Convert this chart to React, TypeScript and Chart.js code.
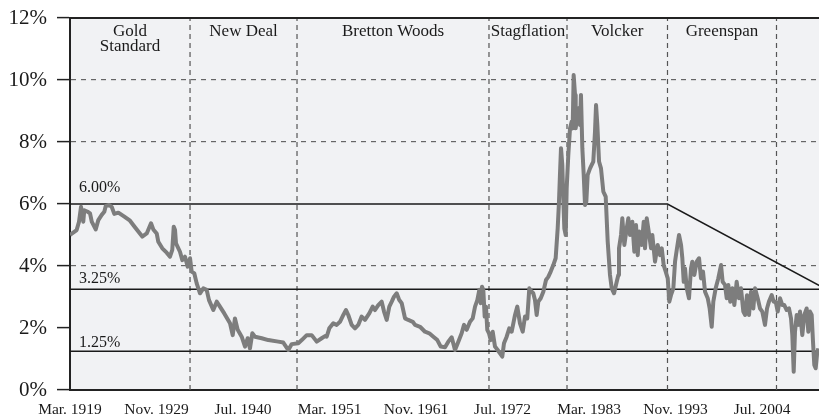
import React, { useEffect, useRef } from 'react';
import { Chart, registerables } from 'chart.js';

Chart.register(...registerables);

// Series: decimal year and rate (%)
const years: number[] = [
  1919.17, 1919.99, 1920.28, 1920.53, 1920.81, 1920.93, 1921.35, 1921.64, 1921.85, 1922.34,
  1922.66, 1923.08, 1923.40, 1923.57, 1923.98, 1924.31, 1924.63, 1925.13, 1925.87, 1926.57,
  1927.18, 1928.08, 1928.63, 1929.16, 1929.44, 1929.86, 1930.06, 1930.55, 1931.09, 1931.50,
  1931.78, 1931.96, 1932.12, 1932.24, 1932.73, 1933.02, 1933.35, 1933.68, 1933.97, 1934.17,
  1934.50, 1934.79, 1935.20, 1935.61, 1936.02, 1936.31, 1936.84, 1937.26, 1937.54, 1938.19,
  1938.90, 1939.23, 1939.51, 1939.85, 1940.34, 1940.75, 1941.08, 1941.36, 1941.65, 1941.98,
  1942.81, 1943.62, 1944.85, 1945.47, 1946.09, 1946.51, 1947.32, 1947.74, 1948.36, 1948.97,
  1949.59, 1950.20, 1950.61, 1950.82, 1951.14, 1951.63, 1952.05, 1952.46, 1952.87, 1953.20,
  1953.48, 1953.90, 1954.31, 1954.71, 1955.13, 1955.54, 1956.07, 1956.49, 1956.78, 1957.18,
  1957.60, 1957.89, 1958.22, 1958.54, 1958.84, 1959.12, 1959.45, 1959.77, 1960.07, 1960.48,
  1960.88, 1961.43, 1961.71, 1962.33, 1962.94, 1963.47, 1963.97, 1964.46, 1964.88, 1965.41,
  1965.81, 1966.23, 1966.64, 1967.05, 1967.46, 1967.75, 1968.08, 1968.49, 1968.82, 1969.11,
  1969.39, 1969.64, 1969.81, 1969.97, 1970.13, 1970.30, 1970.46, 1970.62, 1970.83, 1971.04,
  1971.29, 1971.57, 1971.90, 1972.19, 1972.47, 1972.68, 1973.01, 1973.33, 1973.63, 1974.04,
  1974.32, 1974.65, 1974.99, 1975.27, 1975.55, 1975.80, 1976.10, 1976.29, 1976.50, 1976.71,
  1976.91, 1977.21, 1977.53, 1977.86, 1978.14, 1978.44, 1978.76, 1979.05, 1979.30, 1979.46,
  1979.58, 1979.71, 1979.87, 1979.99, 1980.12, 1980.29, 1980.41, 1980.61, 1980.82, 1981.03,
  1981.15, 1981.27, 1981.44, 1981.52, 1981.68, 1981.84, 1982.05, 1982.17, 1982.34, 1982.51,
  1982.67, 1982.83, 1983.00, 1983.29, 1983.69, 1983.90, 1984.03, 1984.19, 1984.40, 1984.64,
  1984.93, 1985.22, 1985.47, 1985.75, 1985.96, 1986.25, 1986.58, 1986.78, 1986.86, 1987.11,
  1987.27, 1987.52, 1987.81, 1988.01, 1988.22, 1988.50, 1988.75, 1988.96, 1989.17, 1989.36,
  1989.66, 1989.91, 1990.07, 1990.28, 1990.47, 1990.81, 1990.97, 1991.30, 1991.63, 1991.92,
  1992.13, 1992.37, 1992.62, 1992.87, 1993.06, 1993.27, 1993.56, 1993.77, 1994.01, 1994.26,
  1994.51, 1994.67, 1994.84, 1995.00, 1995.21, 1995.49, 1995.74, 1995.90, 1996.15, 1996.44,
  1996.73, 1996.97, 1997.22, 1997.47, 1997.80, 1998.04, 1998.29, 1998.49, 1998.78, 1999.10,
  1999.44, 1999.64, 1999.93, 2000.14, 2000.34, 2000.58, 2000.83, 2001.08, 2001.37, 2001.65,
  2001.90, 2002.19, 2002.40, 2002.64, 2002.89, 2003.14, 2003.42, 2003.63, 2003.96, 2004.25,
  2004.53, 2004.86, 2005.11, 2005.35, 2005.69, 2005.93, 2006.18, 2006.43, 2006.71, 2007.00,
  2007.24, 2007.54, 2007.82, 2008.07, 2008.23, 2008.40, 2008.56, 2008.77, 2008.97, 2009.18,
  2009.46, 2009.71, 2010.00, 2010.20, 2010.41, 2010.62, 2010.78, 2010.94, 2011.11, 2011.27,
  2011.43,
];

const rates: number[] = [
  5.00, 5.16, 5.43, 5.91, 5.43, 5.80, 5.75, 5.70, 5.43, 5.18,
  5.48, 5.65, 5.75, 5.93, 5.97, 5.91, 5.68, 5.72, 5.59, 5.46,
  5.25, 4.95, 5.05, 5.38, 5.18, 5.05, 4.78, 4.57, 4.43, 4.30,
  4.52, 5.27, 5.16, 4.73, 4.46, 4.19, 4.30, 3.98, 4.25, 3.82,
  3.76, 3.44, 3.12, 3.28, 3.23, 2.90, 2.58, 2.85, 2.74, 2.47,
  2.15, 1.77, 2.31, 1.94, 1.72, 1.40, 1.67, 1.34, 1.83, 1.72,
  1.67, 1.61, 1.56, 1.53, 1.29, 1.48, 1.51, 1.61, 1.77, 1.77,
  1.56, 1.67, 1.74, 1.72, 1.99, 2.15, 2.10, 2.20, 2.42, 2.58,
  2.42, 2.10, 1.99, 2.10, 2.37, 2.26, 2.47, 2.69, 2.58, 2.74,
  2.85, 2.53, 2.26, 2.69, 2.85, 3.01, 3.12, 2.90, 2.80, 2.31,
  2.26, 2.20, 2.10, 2.04, 1.88, 1.83, 1.72, 1.61, 1.40, 1.38,
  1.56, 1.70, 1.29, 1.56, 1.83, 2.10, 1.94, 2.20, 2.31, 2.69,
  2.90, 3.23, 2.80, 3.33, 3.23, 2.37, 2.69, 1.94, 1.83, 1.61,
  1.88, 1.40, 1.29, 1.18, 1.08, 1.51, 1.72, 1.99, 1.88, 2.42,
  2.69, 2.15, 1.88, 2.37, 2.31, 3.28, 3.17, 3.12, 2.90, 2.42,
  2.85, 2.96, 3.17, 3.55, 3.65, 3.82, 4.03, 4.25, 5.21, 6.07,
  6.94, 7.80, 7.26, 6.18, 5.21, 5.00, 6.51, 7.58, 8.44, 8.66,
  8.44, 10.16, 9.52, 8.44, 8.76, 9.09, 8.55, 9.52, 7.80, 6.94,
  5.97, 6.07, 6.94, 7.15, 7.37, 8.33, 9.19, 8.55, 7.37, 7.15,
  6.40, 6.24, 4.78, 3.71, 3.28, 3.12, 3.49, 3.71, 4.57, 5.00,
  5.54, 4.68, 5.21, 5.54, 5.00, 5.43, 4.46, 5.32, 4.35, 5.11,
  4.68, 5.43, 4.57, 5.54, 5.21, 4.57, 5.00, 4.14, 4.68, 4.35,
  4.57, 4.03, 3.82, 3.60, 2.85, 3.06, 3.28, 4.14, 4.57, 5.00,
  4.68, 4.25, 3.49, 3.92, 3.28, 2.96, 3.92, 4.14, 3.71, 4.14,
  4.25, 3.60, 3.82, 3.17, 2.96, 2.63, 2.04, 2.85, 3.28, 3.60,
  4.03, 3.49, 3.39, 2.96, 3.39, 2.85, 3.28, 2.74, 3.49, 2.96,
  3.28, 2.53, 2.42, 3.06, 2.42, 3.17, 2.63, 3.28, 2.96, 2.63,
  2.53, 2.10, 2.63, 2.85, 3.06, 2.85, 2.85, 2.53, 2.96, 2.74,
  2.74, 2.58, 2.63, 2.31, 1.77, 0.59, 1.88, 2.42, 2.10, 2.53,
  1.77, 2.42, 2.63, 1.88, 2.53, 2.42, 1.56, 0.81, 0.70, 1.13,
  1.34,
];

const xMin = 1919.17;
const xMax = 2011.52;

const tickYears: number[] = [1919.17, 1929.83, 1940.5, 1951.17, 1961.83, 1972.5, 1983.17, 1993.83, 2004.5];
const tickLabels: string[] = ['Mar. 1919', 'Nov. 1929', 'Jul. 1940', 'Mar. 1951', 'Nov. 1961', 'Jul. 1972', 'Mar. 1983', 'Nov. 1993', 'Jul. 2004'];

const eraNames: string[][] = [['Gold', 'Standard'], ['New Deal'], ['Bretton Woods'], ['Stagflation'], ['Volcker'], ['Greenspan'], []];
const eraBounds: number[] = [1933.97, 1947.16, 1970.83, 1980.45, 1992.84, 2006.28];

const policyYears: number[] = [1919.17, 1992.84, 2012.4];
const policyRates: number[] = [6, 6, 3.25];
const refLevels: number[] = [3.25, 1.25];
const refLabels: string[] = ['6.00%', '3.25%', '1.25%'];
const refLabelValues: number[] = [6, 3.25, 1.25];
const dashedGridValues: number[] = [4, 8, 10];

const SERIF = '"Liberation Serif", "DejaVu Serif", serif';

export default function App() {
  const ref = useRef<HTMLCanvasElement | null>(null);

  useEffect(() => {
    const canvas = ref.current;
    if (!canvas) return;

    const bgPlugin = {
      id: 'bgPlugin',
      beforeDraw(chart: any) {
        const { ctx, chartArea } = chart;
        ctx.save();
        ctx.fillStyle = '#f1f2f4';
        ctx.fillRect(chartArea.left, chartArea.top, chartArea.right - chartArea.left, chartArea.bottom - chartArea.top);
        ctx.restore();
      },
      afterDraw(chart: any) {
        const { ctx, chartArea, scales } = chart;
        const y = scales.y;
        const x = scales.x;
        ctx.save();
        // top frame
        ctx.strokeStyle = '#222';
        ctx.lineWidth = 2;
        ctx.beginPath();
        ctx.moveTo(chartArea.left, y.getPixelForValue(12));
        ctx.lineTo(chartArea.right, y.getPixelForValue(12));
        ctx.stroke();
        // era labels
        ctx.fillStyle = '#1a1a1a';
        ctx.font = '17px ' + SERIF;
        ctx.textAlign = 'center';
        ctx.textBaseline = 'alphabetic';
        const starts = [xMin, ...eraBounds];
        const ends = [...eraBounds, xMax];
        eraNames.forEach((lines, i) => {
          const cx = (x.getPixelForValue(starts[i]) + x.getPixelForValue(ends[i])) / 2;
          lines.forEach((t, j) => {
            ctx.fillText(t, cx, chartArea.top + 18 + j * 15);
          });
        });
        // reference labels
        ctx.font = '16px ' + SERIF;
        ctx.textAlign = 'left';
        const offsets = [-12, -6, -4];
        refLabels.forEach((t, i) => {
          ctx.fillText(t, chartArea.left + 9, y.getPixelForValue(refLabelValues[i]) + offsets[i]);
        });
        ctx.restore();
      },
    };

    const eraData: any[] = [];
    eraBounds.forEach((b) => {
      eraData.push({ x: b, y: 0 }, { x: b, y: 12 }, { x: b, y: null });
    });

    const chart = new Chart(canvas, {
      type: 'line',
      data: {
        datasets: [
          {
            data: years.map((x, i) => ({ x, y: rates[i] })),
            borderColor: '#7d7d7d',
            borderWidth: 4,
            pointRadius: 0,
            tension: 0,
            order: 0,
            borderJoinStyle: 'round',
          },
          {
            data: policyYears.map((x, i) => ({ x, y: policyRates[i] })),
            borderColor: '#1a1a1a',
            borderWidth: 1.5,
            pointRadius: 0,
            order: 1,
          },
          ...refLevels.map((v) => ({
            data: [{ x: xMin, y: v }, { x: xMax, y: v }],
            borderColor: '#1a1a1a',
            borderWidth: 1.5,
            pointRadius: 0,
            order: 1,
          })),
          {
            data: eraData,
            borderColor: '#555',
            borderWidth: 1.2,
            borderDash: [5, 4],
            pointRadius: 0,
            spanGaps: false,
            order: 2,
          },
        ] as any,
      },
      options: {
        animation: false,
        responsive: false,
        devicePixelRatio: 1,
        parsing: false as any,
        layout: { padding: { top: 18, right: 0, left: 0, bottom: 0 } },
        plugins: { legend: { display: false }, tooltip: { enabled: false } },
        scales: {
          x: {
            type: 'linear',
            min: xMin,
            max: xMax,
            afterBuildTicks: (scale: any) => {
              scale.ticks = tickYears.map((v) => ({ value: v }));
            },
            afterFit: (scale: any) => {
              scale.height = 29;
              scale.paddingLeft = 0;
              scale.paddingRight = 0;
            },
            grid: { display: false },
            border: { display: true, color: '#222', width: 2 },
            ticks: {
              autoSkip: false,
              maxRotation: 0,
              padding: 3,
              color: '#1a1a1a',
              font: { family: SERIF, size: 15.5 },
              callback: (_v: any, i: number) => tickLabels[i],
            },
          },
          y: {
            type: 'linear',
            min: 0,
            max: 12,
            afterFit: (scale: any) => {
              scale.width = 70;
              scale.paddingTop = 0;
              scale.paddingBottom = 0;
            },
            grid: {
              color: (ctx: any) => (dashedGridValues.includes(ctx.tick?.value) ? '#666' : 'rgba(0,0,0,0)'),
              tickColor: '#222',
              tickLength: 13,
              lineWidth: 1.2,
              tickWidth: 1.5,
            },
            border: { display: true, color: '#222', width: 2, dash: [5, 5] },
            ticks: {
              stepSize: 2,
              padding: 10,
              color: '#1a1a1a',
              font: { family: SERIF, size: 21 },
              callback: (v: any) => v + '%',
            },
          },
        },
      },
      plugins: [bgPlugin],
    } as any);

    return () => chart.destroy();
  }, []);

  return (
    <div style={{ position: 'fixed', left: 0, top: 0, width: 819, height: 419 }}>
      <canvas ref={ref} width={819} height={419} style={{ width: 819, height: 419, display: 'block' }} />
    </div>
  );
}
